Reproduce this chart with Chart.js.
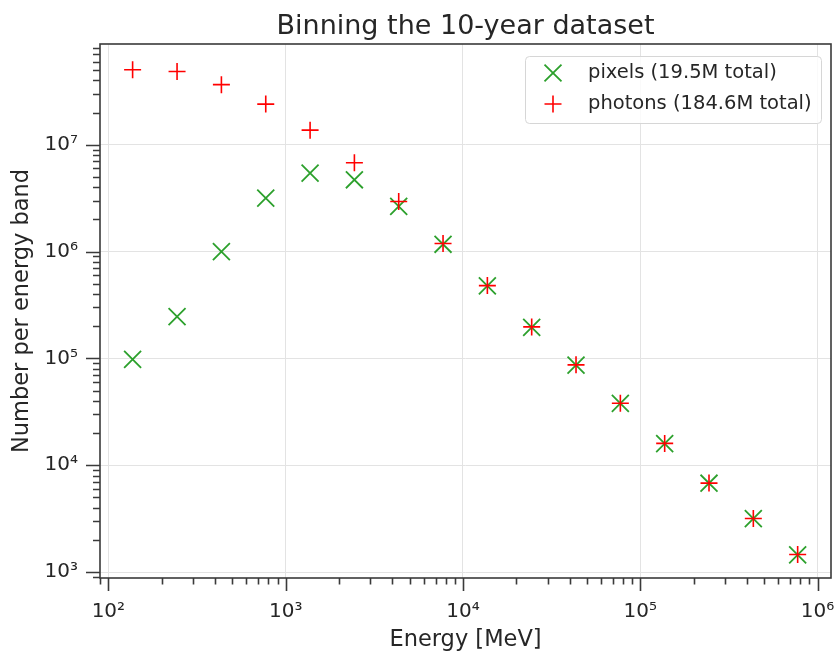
<!DOCTYPE html>
<html lang="en">
  <head>
    <meta charset="UTF-8" />
    <title>Binning the 10-year dataset</title>
    <script src="https://cdn.jsdelivr.net/npm/chart.js@4.4.1/dist/chart.umd.min.js"></script>
    <style>
      html, body { margin: 0; padding: 0; background: #fff; }
      #wrap { width: 836px; height: 655px; }
    </style>
  </head>
  <body>
    <div id="wrap"><canvas id="binChart" width="836" height="655"></canvas></div>

    <script>
      // energy band centres [MeV]
      var energies = [137, 244, 434, 772, 1373, 2441, 4340, 7718, 13725, 24406, 43401, 77179, 137246, 244062, 434010, 771792];
      // counts per band
      var pixelCounts = [9.8e4, 2.46e5, 1.0e6, 3.16e6, 5.43e6, 4.70e6, 2.65e6, 1.17e6, 4.77e5, 1.95e5, 8.66e4, 3.79e4, 1.59e4, 6.78e3, 3.16e3, 1.45e3];
      var photonCounts = [5.03e7, 4.85e7, 3.65e7, 2.40e7, 1.37e7, 6.78e6, 2.94e6, 1.19e6, 4.80e5, 1.97e5, 8.70e4, 3.80e4, 1.60e4, 6.80e3, 3.17e3, 1.46e3];
      var seriesLabels = ["pixels (19.5M total)", "photons (184.6M total)"];
      var titleText = "Binning the 10-year dataset";
      var xTitle = "Energy [MeV]";
      var yTitle = "Number per energy band";

      var FONT = "'DejaVu Sans', sans-serif";
      var INK = "#262626";
      var SPINE = "#3a3a3a";
      var SUP = { "-": "\u207b", 0: "\u2070", 1: "\u00b9", 2: "\u00b2", 3: "\u00b3", 4: "\u2074", 5: "\u2075", 6: "\u2076", 7: "\u2077", 8: "\u2078", 9: "\u2079" };

      Chart.defaults.font.family = FONT;
      Chart.defaults.color = INK;

      function isDecade(v) {
        var e = Math.log10(v);
        return Math.abs(e - Math.round(e)) < 1e-9;
      }

      function decadeLabel(v) {
        if (!isDecade(v)) return "";
        var e = String(Math.round(Math.log10(v)));
        var s = "";
        for (var i = 0; i < e.length; i++) s += SUP[e[i]];
        return "10" + s;
      }

      // matplotlib-style log ticks: 1..9 x 10^k inside the range
      function logTicks(scale) {
        var out = [];
        var lo = Math.floor(Math.log10(scale.min));
        var hi = Math.ceil(Math.log10(scale.max));
        for (var k = lo; k <= hi; k++) {
          for (var m = 1; m <= 9; m++) {
            var v = m * Math.pow(10, k);
            if (v >= scale.min && v <= scale.max) out.push({ value: v, major: m === 1 });
          }
        }
        scale.ticks = out;
      }

      function toPoints(xs, ys) {
        return xs.map(function (x, i) {
          return { x: x, y: ys[i] };
        });
      }

      // chart.js keeps a wide right margin for the last x label; pull the plot edge out like matplotlib
      var fixRight = {
        id: "fixRight",
        afterLayout: function (chart) {
          var target = chart.width - 5;
          var a = chart.chartArea;
          if (a.right === target) return;
          a.right = target;
          a.width = a.right - a.left;
          var xs = chart.scales.x;
          xs.right = target;
          xs.width = target - xs.left;
          xs.configure();
        },
      };

      var frame = {
        id: "frame",
        afterDraw: function (chart) {
          var ctx = chart.ctx;
          var a = chart.chartArea;
          var xs = chart.scales.x;
          var ys = chart.scales.y;
          ctx.save();

          // tick marks
          ctx.strokeStyle = SPINE;
          ctx.lineWidth = 1.6;
          ctx.beginPath();
          xs.ticks.forEach(function (t) {
            var px = Math.round(xs.getPixelForValue(t.value)) + 0.5;
            var len = isDecade(t.value) ? 13 : 6.5;
            ctx.moveTo(px, a.bottom);
            ctx.lineTo(px, a.bottom + len);
          });
          ys.ticks.forEach(function (t) {
            var py = Math.round(ys.getPixelForValue(t.value)) + 0.5;
            var len = isDecade(t.value) ? 14 : 7;
            ctx.moveTo(a.left, py);
            ctx.lineTo(a.left - len, py);
          });
          ctx.stroke();

          // spines
          ctx.lineWidth = 1.6;
          ctx.strokeRect(a.left, a.top, a.right - a.left, a.bottom - a.top);

          // title centred over the axes
          ctx.fillStyle = INK;
          ctx.font = "27px " + FONT;
          ctx.textAlign = "center";
          ctx.textBaseline = "alphabetic";
          ctx.fillText(titleText, (a.left + a.right) / 2, 34);

          // legend
          var bx = 525, by = 56, bw = 296, bh = 67;
          ctx.beginPath();
          ctx.roundRect(bx + 0.5, by + 0.5, bw, bh, 4);
          ctx.fillStyle = "rgba(255,255,255,0.8)";
          ctx.fill();
          ctx.strokeStyle = "#d6d6d6";
          ctx.lineWidth = 1;
          ctx.stroke();

          ctx.font = "19.5px " + FONT;
          ctx.textAlign = "left";
          ctx.textBaseline = "middle";
          chart.data.datasets.forEach(function (ds, i) {
            var ly = 73 + i * 31;
            ctx.strokeStyle = ds.borderColor;
            ctx.lineWidth = ds.borderWidth;
            Chart.helpers.drawPoint(ctx, {
              pointStyle: ds.pointStyle,
              radius: ds.pointRadius,
              rotation: 0,
              borderWidth: ds.borderWidth,
            }, 553, ly);
            ctx.fillStyle = INK;
            ctx.fillText(ds.label, 588, ly);
          });

          ctx.restore();
        },
      };

      var ctx = document.getElementById("binChart").getContext("2d");
      var binChart = new Chart(ctx, {
        type: "scatter",
        data: {
          datasets: [
            {
              label: seriesLabels[0],
              data: toPoints(energies, pixelCounts),
              pointStyle: "crossRot",
              pointRadius: 12,
              pointHoverRadius: 12,
              borderColor: "#2ca02c",
              backgroundColor: "#2ca02c",
              borderWidth: 1.8,
              order: 1,
            },
            {
              label: seriesLabels[1],
              data: toPoints(energies, photonCounts),
              pointStyle: "cross",
              pointRadius: 8.5,
              pointHoverRadius: 8.5,
              borderColor: "#ff0000",
              backgroundColor: "#ff0000",
              borderWidth: 1.6,
              order: 0,
            },
          ],
        },
        options: {
          responsive: false,
          animation: false,
          events: [],
          layout: { padding: { top: 44, right: 5, bottom: 0, left: 0 } },
          plugins: {
            legend: { display: false },
            title: { display: false },
            tooltip: { enabled: false },
          },
          scales: {
            x: {
              type: "logarithmic",
              min: 89.7,
              max: 1.19e6,
              afterBuildTicks: logTicks,
              afterFit: function (s) {
                s.height = 77;
                s.paddingLeft = 0;
                s.paddingRight = 0;
              },
              border: { display: false },
              grid: {
                drawTicks: false,
                lineWidth: 1,
                color: function (c) {
                  return c.tick && isDecade(c.tick.value) ? "#e3e3e3" : "rgba(0,0,0,0)";
                },
              },
              ticks: {
                autoSkip: false,
                maxRotation: 0,
                padding: 22,
                color: INK,
                font: { size: 20 },
                callback: decadeLabel,
              },
              title: {
                display: true,
                text: xTitle,
                color: INK,
                font: { size: 22.5 },
                padding: { top: 0, bottom: 1 },
              },
            },
            y: {
              type: "logarithmic",
              min: 879,
              max: 8.77e7,
              afterBuildTicks: logTicks,
              afterFit: function (s) {
                s.width = 100;
                s.paddingTop = 0;
                s.paddingBottom = 0;
              },
              border: { display: false },
              grid: {
                drawTicks: false,
                lineWidth: 1,
                color: function (c) {
                  return c.tick && isDecade(c.tick.value) ? "#e3e3e3" : "rgba(0,0,0,0)";
                },
              },
              ticks: {
                autoSkip: false,
                padding: 22,
                color: INK,
                font: { size: 20 },
                callback: decadeLabel,
              },
              title: {
                display: true,
                text: yTitle,
                color: INK,
                font: { size: 22.5 },
                padding: { top: 9, bottom: 0 },
              },
            },
          },
        },
        plugins: [fixRight, frame],
      });
    </script>
  </body>
</html>
